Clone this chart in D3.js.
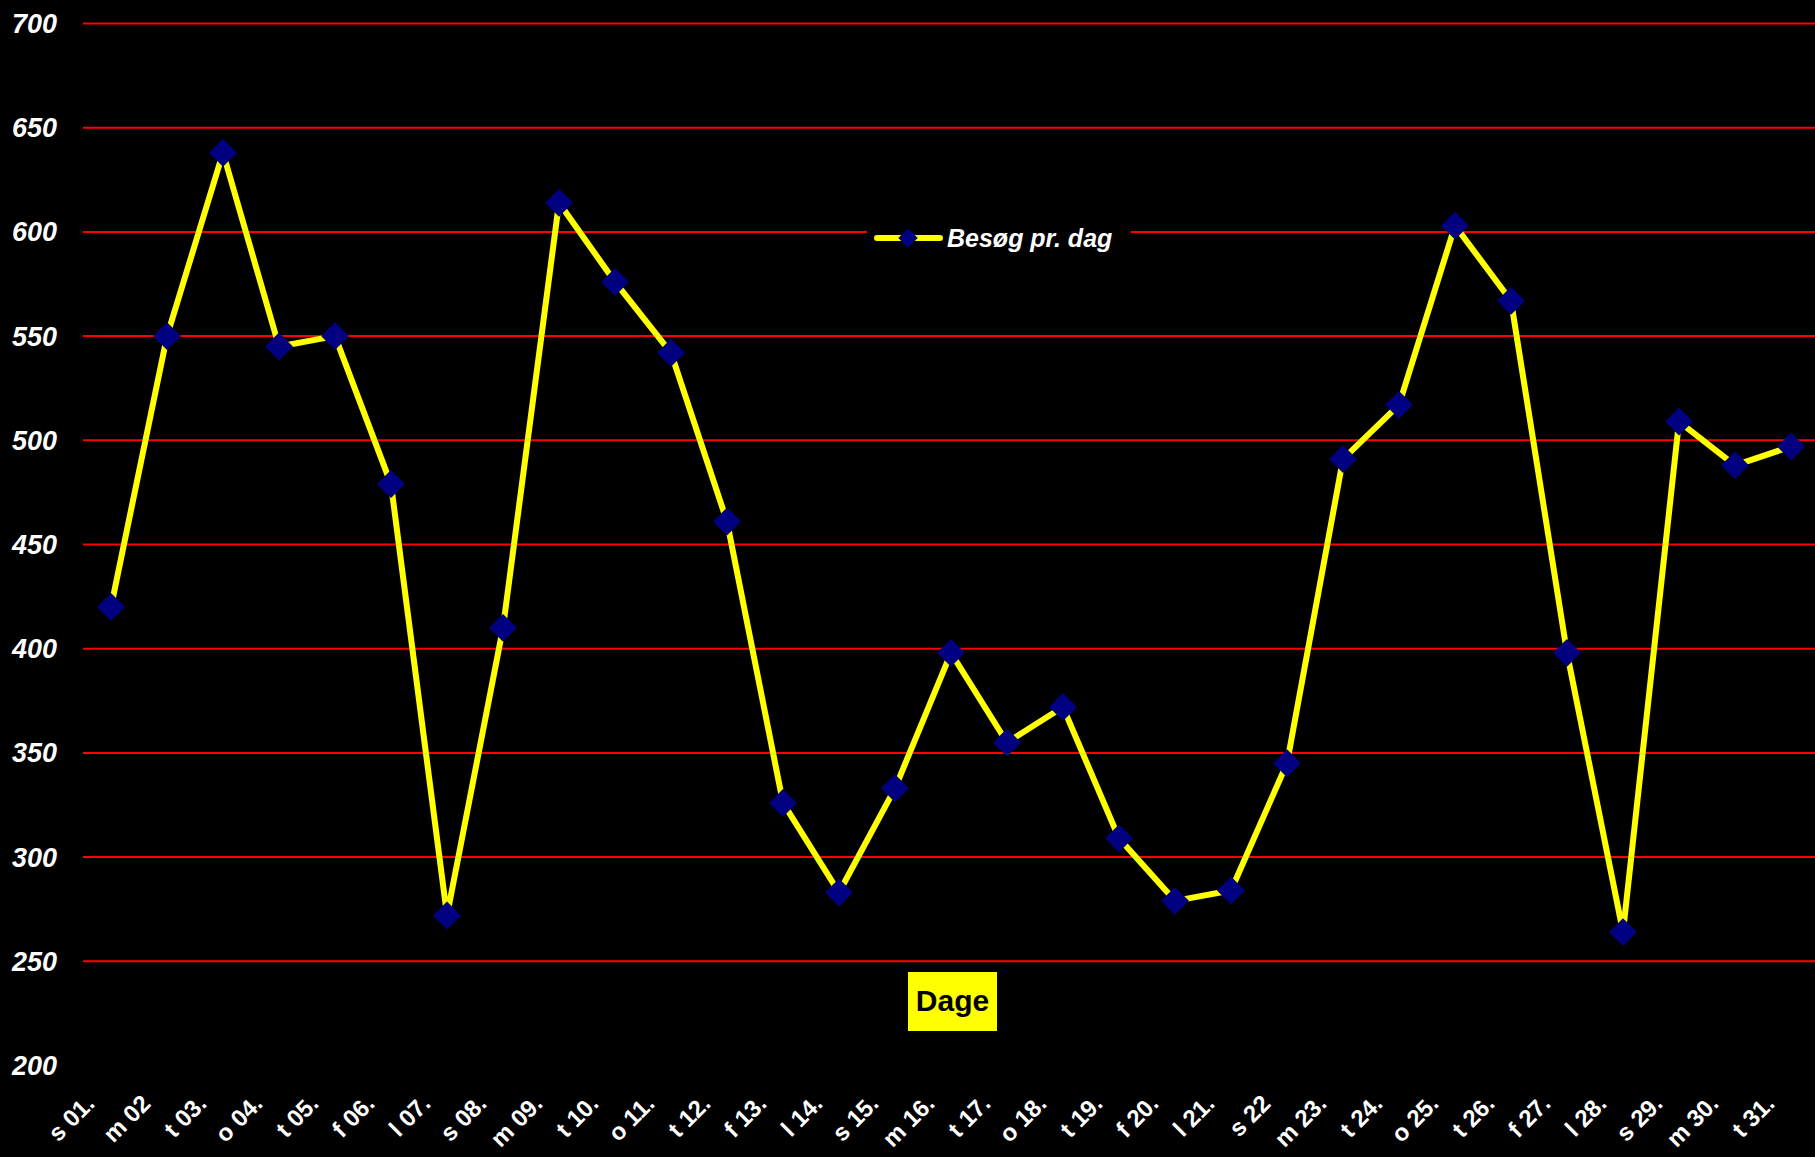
<!DOCTYPE html>
<html>
<head>
<meta charset="utf-8">
<script src="https://cdn.jsdelivr.net/npm/d3@7"></script>
<style>
  body { margin: 0; background: #000; }
  svg { display: block; }
</style>
</head>
<body>
<svg id="chart" width="1815" height="1157"></svg>
<script>
// Days of the month (Danish weekday initial + date)
const days = ['s 01.', 'm 02', 't 03.', 'o 04.', 't 05.', 'f 06.', 'l 07.', 's 08.', 'm 09.', 't 10.',
  'o 11.', 't 12.', 'f 13.', 'l 14.', 's 15.', 'm 16.', 't 17.', 'o 18.', 't 19.', 'f 20.',
  'l 21.', 's 22', 'm 23.', 't 24.', 'o 25.', 't 26.', 'f 27.', 'l 28.', 's 29.', 'm 30.', 't 31.'];

// Visits per day
const visits = [420, 550, 638, 545, 550, 479, 272, 410, 614, 576,
  542, 461, 326, 283, 333, 398, 355, 372, 309, 279,
  284, 345, 491, 517, 603, 567, 398, 264, 509, 488, 497];

const yTicks = [200, 250, 300, 350, 400, 450, 500, 550, 600, 650, 700];

const svg = d3.select('#chart');
const font = '"Liberation Sans", Arial, sans-serif';

const x = d3.scaleBand().domain(days).range([83, 1819]);
const y = d3.scaleLinear().domain([200, 700]).range([1065.5, 23.5]);

// Gridlines (no line at the bottom value)
svg.append('g')
  .selectAll('line')
  .data(yTicks.filter((d) => d > 200))
  .join('line')
  .attr('x1', 83)
  .attr('x2', 1815)
  .attr('y1', (d) => y(d))
  .attr('y2', (d) => y(d))
  .attr('stroke', '#ff0000')
  .attr('stroke-width', 2);

// Y labels
svg.append('g')
  .selectAll('text')
  .data(yTicks)
  .join('text')
  .attr('x', 57)
  .attr('y', (d) => y(d))
  .attr('dy', '0.35em')
  .attr('text-anchor', 'end')
  .attr('fill', '#fff')
  .style('font', `italic bold 27px ${font}`)
  .text((d) => d);

// X labels, rotated
svg.append('g')
  .selectAll('text')
  .data(days)
  .join('text')
  .attr('transform', (d) => `translate(${x(d) + x.bandwidth() / 2 - 15},1105) rotate(-45)`)
  .attr('text-anchor', 'end')
  .attr('fill', '#fff')
  .style('font', `bold 24px ${font}`)
  .text((d) => d);

const cx = (d, i) => x(days[i]) + x.bandwidth() / 2;

// Series line
const line = d3.line()
  .x((d, i) => cx(d, i))
  .y((d) => y(d));

svg.append('path')
  .datum(visits)
  .attr('d', line)
  .attr('fill', 'none')
  .attr('stroke', '#ffff00')
  .attr('stroke-width', 6)
  .attr('stroke-linejoin', 'round');

// Diamond markers
const diamond = d3.symbol().type(d3.symbolSquare).size(390);
svg.append('g')
  .selectAll('path')
  .data(visits)
  .join('path')
  .attr('d', diamond)
  .attr('transform', (d, i) => `translate(${cx(d, i)},${y(d)}) rotate(45)`)
  .attr('fill', '#000080');

// Legend
const legend = svg.append('g');
legend.append('rect')
  .attr('x', 867).attr('y', 218).attr('width', 264).attr('height', 40)
  .attr('fill', '#000');
legend.append('line')
  .attr('x1', 877).attr('x2', 940).attr('y1', 238).attr('y2', 238)
  .attr('stroke', '#ffff00').attr('stroke-width', 6).attr('stroke-linecap', 'round');
legend.append('path')
  .attr('d', d3.symbol().type(d3.symbolSquare).size(190))
  .attr('transform', 'translate(908,238) rotate(45)')
  .attr('fill', '#000080');
legend.append('text')
  .attr('x', 947).attr('y', 238).attr('dy', '0.35em')
  .attr('fill', '#fff')
  .style('font', `italic bold 25px ${font}`)
  .text('Besøg pr. dag');

// Axis title
svg.append('rect')
  .attr('x', 908).attr('y', 972).attr('width', 89).attr('height', 59)
  .attr('fill', '#ffff00');
svg.append('text')
  .attr('x', 952.5).attr('y', 1000).attr('dy', '0.35em')
  .attr('text-anchor', 'middle')
  .attr('fill', '#000')
  .style('font', `bold 30px ${font}`)
  .text('Dage');
</script>
</body>
</html>
